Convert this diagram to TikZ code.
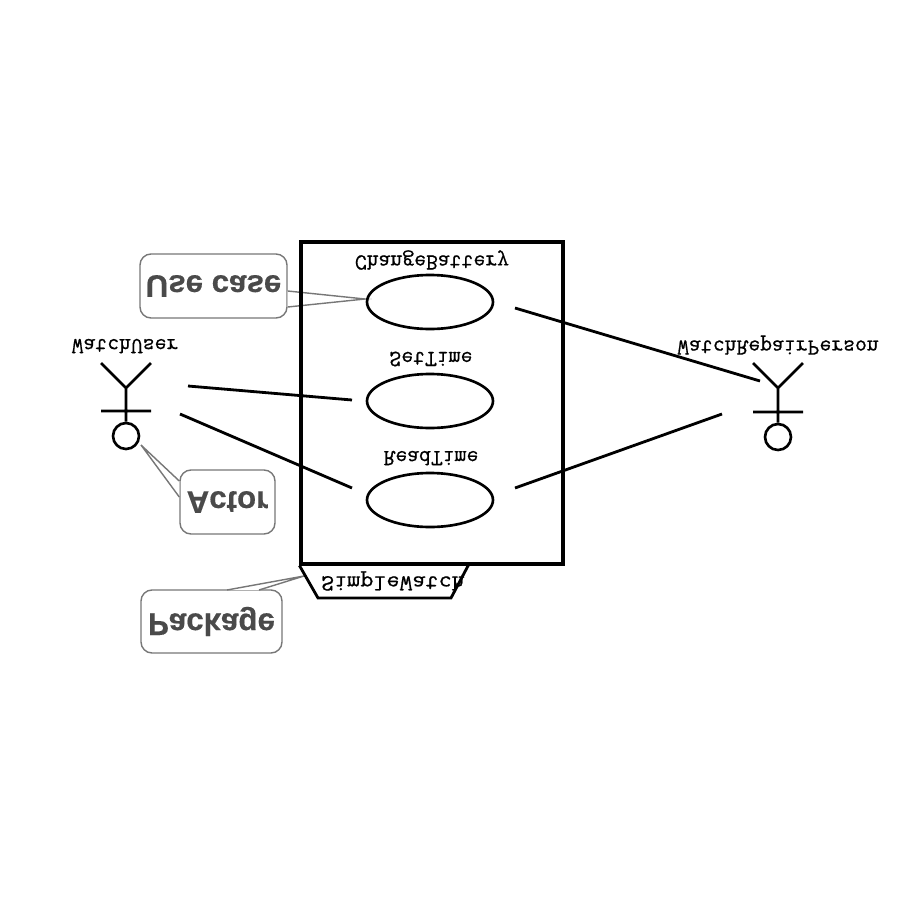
\documentclass[tikz,border=0pt]{standalone}
\usepackage{fontspec}
\usetikzlibrary{shapes.geometric}
\setmainfont{Liberation Sans}
\newfontfamily\lblfont[FakeBold=0.7]{Latin Modern Mono}
\newfontfamily\callfont[FakeBold=0.4]{Liberation Sans Bold}
\definecolor{callgray}{HTML}{4A4A4A}
\definecolor{callline}{HTML}{777777}
\tikzset{
  ln/.style={line width=1.6pt,black},
  usecase/.style={ellipse,draw=black,line width=1.5pt,minimum width=126*0.02cm,minimum height=54*0.02cm,inner sep=0pt},
  label/.style={inner sep=0pt,yscale=-1,transform shape,font=\lblfont\fontsize{13.1}{13.1}\selectfont,text=black},
  callbox/.style={draw=callline,line width=0.8pt,rounded corners=0.22cm,fill=white,inner sep=0pt,yscale=-1,transform shape,
     font=\callfont\fontsize{17.8}{17.8}\selectfont,text=callgray},
  head/.style={circle,draw=black,line width=1.5pt,minimum size=26*0.02cm,inner sep=0pt},
  tail/.style={callline,line width=0.8pt},
}
\begin{document}
\begin{tikzpicture}[x=0.02cm,y=-0.02cm]
\useasboundingbox (0,0) rectangle (900,900);
% callouts
\node[callbox,minimum width=147*0.02cm,minimum height=64*0.02cm] (ucbox) at (213.5,286) {Use case};
\node[callbox,minimum width=95*0.02cm,minimum height=64*0.02cm] (acbox) at (227.5,502) {Actor};
\node[callbox,minimum width=141*0.02cm,minimum height=63*0.02cm] (pkbox) at (211.5,621.5) {Package};
% callout tails
\coordinate (uctip) at (365,299);
\coordinate (uca) at (ucbox.east |- 0,291);
\coordinate (ucb) at (ucbox.east |- 0,307);
\fill[white] (uca) -- (uctip) -- (ucb) -- cycle;
\draw[tail] (uca) -- (uctip) -- (ucb);
\coordinate (actip) at (141,445);
\coordinate (aca) at (acbox.west |- 0,481);
\coordinate (acb) at (acbox.west |- 0,497);
\fill[white] (aca) -- (actip) -- (acb) -- cycle;
\draw[tail] (aca) -- (actip) -- (acb);
\coordinate (pktip) at (304,576);
\coordinate (pka) at (227,590);
\coordinate (pkb) at (259,590);
\fill[white] (pka) -- (pktip) -- (pkb) -- cycle;
\draw[tail] (pka) -- (pktip) -- (pkb);
% package
\node[draw=black,line width=1.75pt,minimum width=262*0.02cm,minimum height=322*0.02cm,inner sep=0pt] (pkg) at (432,403) {};
\coordinate (t1) at (318,598);
\coordinate (t2) at (451,598);
\draw[ln,line join=miter] (pkg.south west) -- (t1) -- (t2) -- (469,564);
\node[label,xscale=1.1] (simple) at (393,581) {SimpleWatch};
% use cases
\node[usecase] (cb) at (430,302) {};
\node[usecase] (st) at (430,401) {};
\node[usecase] (rt) at (430,500) {};
\node[label] (cbl) at (432,260) {ChangeBattery};
\node[label] (stl) at (431,359) {SetTime};
\node[label] (rtl) at (431,458) {ReadTime};
% left actor
\node[head] (h1) at (126,436) {};
\coordinate (j1) at (126,388);
\draw[ln,line width=1.5pt] (h1.north) -- (j1) (j1) -- (101,363) (j1) -- (151,363) (101,411) -- (151,411);
\node[label] (wu) at (125,346) {WatchUser};
% right actor
\node[head] (h2) at (778,437) {};
\coordinate (j2) at (778,388);
\draw[ln,line width=1.5pt] (h2.north) -- (j2) (j2) -- (753,363) (j2) -- (803,363) (753,412) -- (803,412);
\node[label] (wr) at (778,345) {WatchRepairPerson};
% connectors
\coordinate (a1) at (188,386); \coordinate (a2) at (352,400);
\coordinate (b1) at (180,414); \coordinate (b2) at (352,488);
\coordinate (c1) at (515,308); \coordinate (c2) at (760,381);
\coordinate (d1) at (515,488); \coordinate (d2) at (722,414);
\draw[ln] (a1) -- (a2);
\draw[ln] (b1) -- (b2);
\draw[ln] (c1) -- (c2);
\draw[ln] (d1) -- (d2);
\end{tikzpicture}
\end{document}
